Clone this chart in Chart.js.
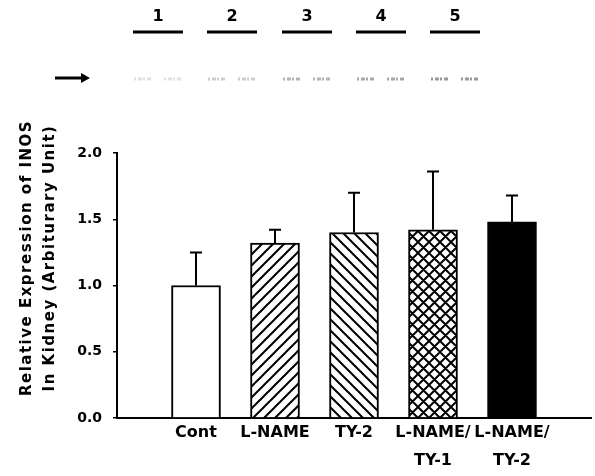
<!DOCTYPE html>
<html>
<head>
<meta charset="utf-8">
<script src="https://cdn.jsdelivr.net/npm/chart.js@4"></script>
<style>
  html, body { margin: 0; padding: 0; background: #fff; }
  canvas { display: block; }
</style>
</head>
<body>
<canvas id="chart-inos" width="595" height="476"></canvas>
<script>
var categories = ['Cont', 'L-NAME', 'TY-2', ['L-NAME/', 'TY-1'], ['L-NAME/', 'TY-2']];
var means = [1.00, 1.32, 1.40, 1.42, 1.48];
var errors = [0.25, 0.10, 0.30, 0.44, 0.20];
var yTicks = [0, 0.5, 1.0, 1.5, 2.0];
var laneLabels = ['1', '2', '3', '4', '5'];
var yTitle = ['Relative Expression of INOS', 'In Kidney (Arbiturary Unit)'];

var FONT = '"DejaVu Sans", sans-serif';

// hatch fills for the bars
function makeHatch(kind) {
    var t = 11;
    var c = document.createElement('canvas');
    c.width = t; c.height = t;
    var g = c.getContext('2d');
    g.fillStyle = '#fff';
    g.fillRect(0, 0, t, t);
    g.strokeStyle = '#000';
    g.lineWidth = 2;
    g.beginPath();
    if (kind === '/' || kind === 'x') {
        g.moveTo(-1, t + 1); g.lineTo(t + 1, -1);
        g.moveTo(-2, 2); g.lineTo(2, -2);
        g.moveTo(t - 2, t + 2); g.lineTo(t + 2, t - 2);
    }
    if (kind === '\\' || kind === 'x') {
        g.moveTo(-1, -1); g.lineTo(t + 1, t + 1);
        g.moveTo(t - 2, -2); g.lineTo(t + 2, 2);
        g.moveTo(-2, t - 2); g.lineTo(2, t + 2);
    }
    g.stroke();
    return g.createPattern(c, 'repeat');
}

var fills = ['#ffffff', makeHatch('/'), makeHatch('\\'), makeHatch('x'), '#000000'];

// one empty slot on each side, as in the figure
var labels = [''].concat(categories, ['']);
var barData = [null].concat(means, [null]);
var errData = [null].concat(errors, [null]);
var barFills = ['#fff'].concat(fills, ['#fff']);

var bgPlugin = {
    id: 'bg',
    beforeDraw: function(chart) {
        var ctx = chart.ctx;
        ctx.save();
        ctx.fillStyle = '#fff';
        ctx.fillRect(0, 0, chart.width, chart.height);
        ctx.restore();
    }
};

var errorBars = {
    id: 'errorBars',
    afterDatasetsDraw: function(chart) {
        var ctx = chart.ctx;
        var y = chart.scales.y;
        var meta = chart.getDatasetMeta(0);
        ctx.save();
        ctx.strokeStyle = '#000';
        ctx.lineWidth = 2;
        meta.data.forEach(function(bar, i) {
            if (errData[i] == null) return;
            var top = y.getPixelForValue(barData[i] + errData[i]);
            ctx.beginPath();
            ctx.moveTo(bar.x, bar.y);
            ctx.lineTo(bar.x, top);
            ctx.moveTo(bar.x - 6, top);
            ctx.lineTo(bar.x + 6, top);
            ctx.stroke();
        });
        ctx.restore();
    }
};

var yTitlePlugin = {
    id: 'yTitle',
    afterDraw: function(chart) {
        var ctx = chart.ctx;
        ctx.save();
        ctx.fillStyle = '#000';
        ctx.font = 'bold 15px ' + FONT;
        ctx.letterSpacing = '1.5px';
        ctx.textAlign = 'center';
        ctx.textBaseline = 'middle';
        ctx.translate(27, 258);
        ctx.rotate(-Math.PI / 2);
        yTitle.forEach(function(line, i) {
            ctx.fillText(line, 0, i * 23);
        });
        ctx.restore();
    }
};

// western blot strip above the chart
var blotPlugin = {
    id: 'blot',
    afterDraw: function(chart) {
        var ctx = chart.ctx;
        var lanes = [158, 232, 307, 381, 455];
        ctx.save();
        ctx.fillStyle = '#000';
        ctx.strokeStyle = '#000';
        ctx.font = 'bold 16px ' + FONT;
        ctx.textAlign = 'center';
        ctx.textBaseline = 'middle';
        lanes.forEach(function(x, i) {
            ctx.fillText(laneLabels[i], x, 17);
            ctx.lineWidth = 3;
            ctx.beginPath();
            ctx.moveTo(x - 25, 32);
            ctx.lineTo(x + 25, 32);
            ctx.stroke();
        });
        // arrow
        ctx.lineWidth = 3;
        ctx.beginPath();
        ctx.moveTo(55, 78);
        ctx.lineTo(82, 78);
        ctx.stroke();
        ctx.beginPath();
        ctx.moveTo(90, 78);
        ctx.lineTo(81, 73);
        ctx.lineTo(81, 83);
        ctx.closePath();
        ctx.fill();
        // faint bands
        var shade = [0.12, 0.2, 0.3, 0.35, 0.4];
        ctx.lineWidth = 3;
        ctx.setLineDash([2, 2, 4, 1]);
        lanes.forEach(function(x, i) {
            ctx.strokeStyle = 'rgba(0,0,0,' + shade[i] + ')';
            ctx.beginPath();
            ctx.moveTo(x - 24, 79); ctx.lineTo(x - 6, 79);
            ctx.moveTo(x + 6, 79); ctx.lineTo(x + 24, 79);
            ctx.stroke();
        });
        ctx.restore();
    }
};

var ctx = document.getElementById('chart-inos').getContext('2d');

var chart = new Chart(ctx, {
    type: 'bar',
    data: {
        labels: labels,
        datasets: [{
            data: barData,
            backgroundColor: barFills,
            borderColor: '#000',
            borderWidth: 2,
            borderSkipped: 'bottom',
            barThickness: 49
        }]
    },
    options: {
        responsive: false,
        animation: false,
        layout: { padding: { top: 153, right: 4, bottom: 0, left: 0 } },
        plugins: {
            legend: { display: false },
            tooltip: { enabled: false }
        },
        scales: {
            x: {
                offset: false,
                grid: { display: false, drawTicks: false },
                border: { display: true, color: '#000', width: 2 },
                ticks: {
                    color: '#000',
                    padding: 1,
                    maxRotation: 0,
                    autoSkip: false,
                    font: { family: FONT, size: 16, weight: 'bold', lineHeight: '28px' }
                },
                afterFit: function(s) { s.height = 58; }
            },
            y: {
                min: 0,
                max: 2.0,
                afterBuildTicks: function(s) {
                    s.ticks = yTicks.map(function(v) { return { value: v }; });
                },
                grid: { drawOnChartArea: false, drawTicks: true, tickLength: 4, color: '#000', lineWidth: 1.5 },
                border: { display: true, color: '#000', width: 2 },
                ticks: {
                    color: '#000',
                    padding: 11,
                    font: { family: FONT, size: 14, weight: 'bold' },
                    callback: function(v) { return Number(v).toFixed(1); }
                },
                afterFit: function(s) { s.width = 117; }
            }
        }
    },
    plugins: [bgPlugin, errorBars, yTitlePlugin, blotPlugin]
});
</script>
</body>
</html>
